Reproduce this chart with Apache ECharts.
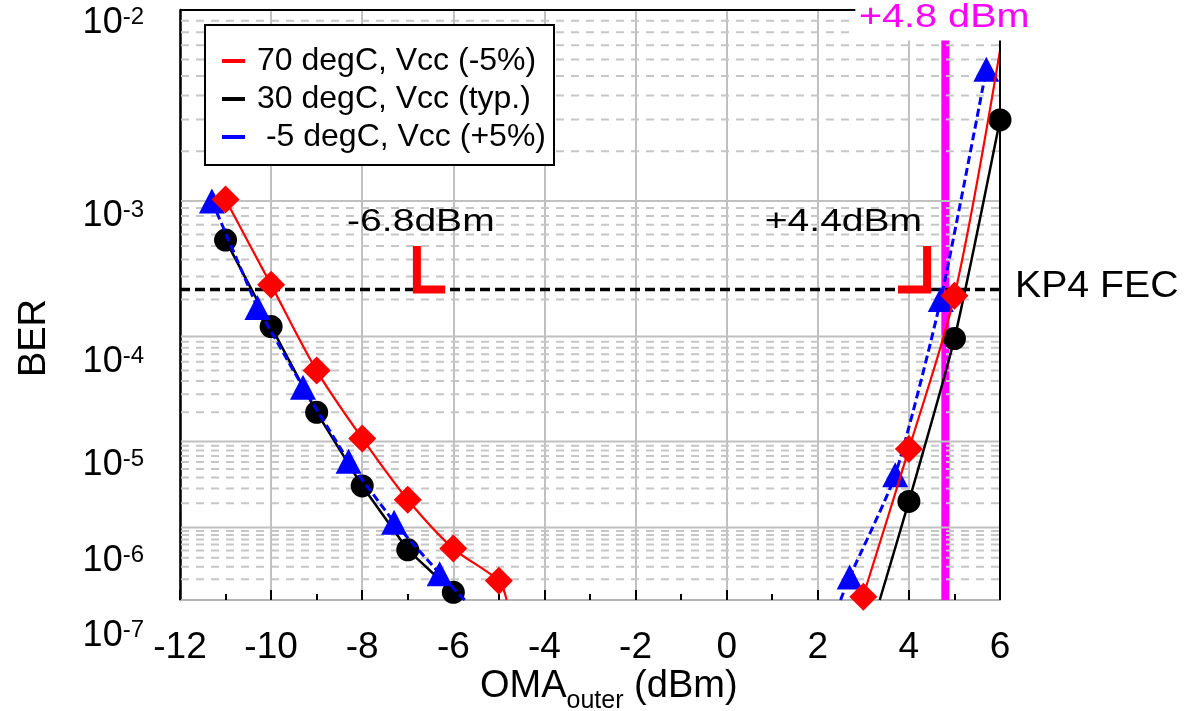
<!DOCTYPE html>
<html>
<head>
<meta charset="utf-8">
<script src="https://cdn.jsdelivr.net/npm/echarts@6/dist/echarts.min.js"></script>
<style>
  html, body { margin: 0; padding: 0; background: #fff; }
  #chart { width: 1204px; height: 711px; }
</style>
</head>
<body>
<div id="chart"></div>
<script>
// ---------------- data ----------------
const seriesNames = ['70 degC, Vcc (-5%)', '30 degC, Vcc (typ.)', ' -5 degC, Vcc (+5%)'];

// measured BER points vs OMA_outer (dBm)
const hotX   = [-11, -10, -9, -8, -7, -6, -5, 3, 4, 5];
const hotBER = [1.02e-3, 2.6e-4, 5.0e-5, 1.08e-5, 2.2e-6, 5.3e-7, 1.9e-7, 1.12e-7, 8.3e-6, 2.14e-4];
const typX   = [-11, -10, -9, -8, -7, -6, 4, 5, 6];
const typBER = [5.5e-4, 1.21e-4, 2.0e-5, 3.2e-6, 5.1e-7, 1.3e-7, 2.1e-6, 9.6e-5, 2.98e-3];
const coldX   = [-11.3, -10.3, -9.3, -8.3, -7.3, -6.3, 2.7, 3.7, 4.7, 5.7];
const coldBER = [1.0e-3, 1.73e-4, 3.5e-5, 6.1e-6, 1.16e-6, 2.4e-7, 2.15e-7, 4.3e-6, 2.0e-4, 5.4e-3];

// fitted curves, low-power and high-power branches
const hotFitLeftX    = [-11, -10, -9, -8, -7, -6, -5, -4.83];
const hotFitLeftBER  = [1.02e-3, 2.6e-4, 5.0e-5, 1.08e-5, 2.2e-6, 5.3e-7, 1.9e-7, 1.0e-7];
const hotFitRightX   = [2.97, 4, 5, 6];
const hotFitRightBER = [1.0e-7, 8.3e-6, 2.14e-4, 6.6e-3];
const typFitLeftX    = [-11, -10, -9, -8, -7, -6, -5.92];
const typFitLeftBER  = [5.5e-4, 1.21e-4, 2.0e-5, 3.2e-6, 5.1e-7, 1.3e-7, 1.0e-7];
const typFitRightX   = [3.36, 4, 5, 6];
const typFitRightBER = [1.0e-7, 2.1e-6, 9.6e-5, 2.98e-3];
const coldFitLeftX    = [-11.3, -10.3, -9.3, -8.3, -7.3, -6.3, -5.75];
const coldFitLeftBER  = [1.0e-3, 1.73e-4, 3.5e-5, 6.1e-6, 1.16e-6, 2.4e-7, 1.0e-7];
const coldFitRightX   = [2.5, 2.7, 3.7, 4.7, 5.7];
const coldFitRightBER = [1.0e-7, 2.15e-7, 4.3e-6, 2.0e-4, 5.4e-3];

// reference levels
const fecBER = 2.4e-4;          // KP4 FEC threshold
const sensLevel = 4.8;          // dBm, vertical marker
const lowerMark = -6.8;         // dBm at FEC threshold, low side
const upperMark = 4.4;          // dBm at FEC threshold, high side
const bracketTopBER = 5e-4;
const lowerBracketX = [lowerMark, lowerMark, -6.18];
const upperBracketX = [upperMark, upperMark, 3.76];
const bracketBER = [bracketTopBER, fecBER, fecBER];

// axes
const xTickMin = -12, xTickMax = 6, xTickStep = 2;
const decadeExps = [-2, -3, -4, -5, -6, -7];
const minorMantissas = [2, 3, 4, 5, 6, 7, 8, 9];

// ---------------- helpers ----------------
const FONT = '"Liberation Sans", Arial, Helvetica, sans-serif';
// BER axis is linear in log10(-log10(BER))
const tr = b => Math.log10(-Math.log10(b));
const pts = (xs, bs) => xs.map((x, i) => [x, tr(bs[i])]);

const majorGridBER = decadeExps.slice(1, -1).map(e => Math.pow(10, e));
const minorGridBER = [];
decadeExps.slice(1).forEach(e => minorMantissas.forEach(m => minorGridBER.push(m * Math.pow(10, e))));

function gridRender(dashed) {
  return function (params, api) {
    const cs = params.coordSys;
    const y = api.coord([xTickMin, api.value(1)])[1];
    return {
      type: 'line',
      silent: true,
      shape: { x1: cs.x + 1, y1: y, x2: cs.x + cs.width, y2: y },
      style: {
        stroke: dashed ? '#c6c6c6' : '#c0c0c0',
        lineWidth: 2,
        lineDash: dashed ? [8, 7] : null
      }
    };
  };
}

const colors = { hot: '#ff0000', typ: '#000000', cold: '#0000ff' };
const hotLine  = { color: colors.hot, width: 2.2 };
const typLine  = { color: colors.typ, width: 2.5 };
const coldLine = { color: colors.cold, width: 3, type: [8, 4] };

function fit(name, data, lineStyle, z, smooth) {
  return {
    name, type: 'line', data, z, smooth: smooth || false,
    symbol: 'none', showSymbol: false, lineStyle,
    itemStyle: { color: lineStyle.color },
    emphasis: { disabled: true }, silent: true, animation: false
  };
}
function marks(name, data, symbol, size, color, z) {
  return {
    name, type: 'scatter', data, z, symbol, symbolSize: size,
    itemStyle: { color, opacity: 1 },
    emphasis: { disabled: true }, silent: true, animation: false
  };
}

const chart = echarts.init(document.getElementById('chart'), null, { renderer: 'canvas' });

chart.setOption({
  animation: false,
  backgroundColor: '#ffffff',
  grid: { left: 180, right: 204, top: 10, bottom: 111, containLabel: false },
  legend: {
    data: seriesNames.map((n, i) => ({
      name: n, icon: 'rect',
      itemStyle: { color: [colors.hot, colors.typ, colors.cold][i] }
    })),
    orient: 'vertical',
    left: 205, top: 25,
    padding: [20, 8, 12, 17],
    itemGap: 6,
    itemWidth: 23, itemHeight: 4,
    backgroundColor: '#ffffff',
    borderColor: '#000000', borderWidth: 2,
    selectedMode: false,
    textStyle: { fontSize: 32, color: '#000', fontFamily: FONT, padding: [0, 0, 0, 7] }
  },
  xAxis: {
    type: 'value', min: xTickMin, max: xTickMax, interval: xTickStep,
    axisLine: { show: true, onZero: false, lineStyle: { color: '#b4b4b4', width: 2 } },
    axisTick: { show: true, inside: true, length: 10, lineStyle: { color: '#000', width: 2 } },
    minorTick: { show: true, splitNumber: 2, length: 6, lineStyle: { color: '#000', width: 2 } },
    axisLabel: { fontSize: 37, color: '#000', margin: 29, fontFamily: FONT },
    splitLine: { show: true, lineStyle: { color: '#c0c0c0', width: 2 } }
  },
  yAxis: {
    type: 'value', inverse: true,
    min: tr(Math.pow(10, decadeExps[0])), max: tr(Math.pow(10, decadeExps[decadeExps.length - 1])),
    axisLine: { show: true, onZero: false, lineStyle: { color: '#000', width: 2.5 } },
    axisTick: { show: false }, axisLabel: { show: false }, splitLine: { show: false }
  },
  series: [
    {
      name: 'sensitivity', type: 'line', z: 1, silent: true, animation: false,
      data: [[sensLevel, tr(1e-2)], [sensLevel, tr(1e-7)]],
      symbol: 'none', showSymbol: false,
      lineStyle: { color: '#ff00ff', width: 8 }
    },
    { name: 'minor grid', type: 'custom', z: 2, silent: true, animation: false,
      data: minorGridBER.map(b => [xTickMin, tr(b)]), renderItem: gridRender(true) },
    { name: 'major grid', type: 'custom', z: 2, silent: true, animation: false,
      data: majorGridBER.map(b => [xTickMin, tr(b)]), renderItem: gridRender(false) },
    {
      name: 'KP4 FEC', type: 'line', z: 3, silent: true, animation: false,
      data: [[xTickMin, tr(fecBER)], [xTickMax, tr(fecBER)]],
      symbol: 'none', showSymbol: false,
      lineStyle: { color: '#000', width: 3.5, type: [10, 5] }
    },
    fit(seriesNames[1], pts(typFitLeftX, typFitLeftBER), typLine, 4),
    fit(seriesNames[1], pts(typFitRightX, typFitRightBER), typLine, 4, 0.2),
    marks(seriesNames[1], pts(typX, typBER), 'circle', 23, colors.typ, 4),
    fit(seriesNames[2], pts(coldFitLeftX, coldFitLeftBER), coldLine, 5),
    fit(seriesNames[2], pts(coldFitRightX, coldFitRightBER), coldLine, 5, 0.2),
    marks(seriesNames[2], pts(coldX, coldBER), 'triangle', [26, 25], colors.cold, 5),
    fit(seriesNames[0], pts(hotFitLeftX, hotFitLeftBER), hotLine, 6, 0.3),
    fit(seriesNames[0], pts(hotFitRightX, hotFitRightBER), hotLine, 6, 0.3),
    marks(seriesNames[0], pts(hotX, hotBER), 'diamond', 28, colors.hot, 6),
    {
      name: 'lower bracket', type: 'line', z: 7, silent: true, animation: false,
      data: pts(lowerBracketX, bracketBER), symbol: 'none', showSymbol: false,
      lineStyle: { color: '#ff0000', width: 8, join: 'miter', cap: 'butt' }
    },
    {
      name: 'upper bracket', type: 'line', z: 7, silent: true, animation: false,
      data: pts(upperBracketX, bracketBER), symbol: 'none', showSymbol: false,
      lineStyle: { color: '#ff0000', width: 8, join: 'miter', cap: 'butt' }
    }
  ]
});

// ---------------- text and frame placed from the axis scales ----------------
const px = (x, b) => chart.convertToPixel({ gridIndex: 0 }, [x, tr(b)]);
const topLeft = px(xTickMin, Math.pow(10, decadeExps[0]));
const botRight = px(xTickMax, Math.pow(10, decadeExps[decadeExps.length - 1]));

const tickNudge = [13, 15, 26, 24, 34, 36];
const graphics = [];

decadeExps.forEach((e, i) => {
  const y = px(xTickMin, Math.pow(10, e))[1] + tickNudge[i];
  graphics.push({
    type: 'text', z: 50, silent: true, x: 144, y,
    style: {
      text: '{m|10}{s|' + e + '}',
      align: 'right', verticalAlign: 'middle', fill: '#000',
      rich: {
        m: { fontSize: 36, fontFamily: FONT, fill: '#000' },
        s: { fontSize: 24, fontFamily: FONT, fill: '#000', verticalAlign: 'top' }
      }
    }
  });
});

// frame: top and right edges
graphics.push({ type: 'line', z: 50, silent: true,
  shape: { x1: topLeft[0], y1: topLeft[1], x2: botRight[0], y2: topLeft[1] },
  style: { stroke: '#000', lineWidth: 2 } });
graphics.push({ type: 'line', z: 50, silent: true,
  shape: { x1: botRight[0], y1: topLeft[1], x2: botRight[0], y2: botRight[1] },
  style: { stroke: '#000', lineWidth: 2 } });

// threshold annotations
const lowTop = px(lowerMark, bracketTopBER);
const upTop = px(upperMark, bracketTopBER);
graphics.push({ type: 'text', z: 50, silent: true, x: lowTop[0] + 4, y: lowTop[1] - 24, scaleX: 1.22,
  style: { text: lowerMark + 'dBm', fontSize: 32, fontFamily: FONT, fill: '#000', align: 'center', verticalAlign: 'middle' } });
graphics.push({ type: 'text', z: 50, silent: true, x: upTop[0] - 5, y: upTop[1] - 24, scaleX: 1.22,
  style: { text: '+' + upperMark + 'dBm', fontSize: 32, fontFamily: FONT, fill: '#000', align: 'right', verticalAlign: 'middle' } });

const fecEnd = px(xTickMax, fecBER);
graphics.push({ type: 'text', z: 50, silent: true, x: fecEnd[0] + 15, y: fecEnd[1] - 3, scaleX: 1.06,
  style: { text: 'KP4 FEC', fontSize: 37, fontFamily: FONT, fill: '#000', align: 'left', verticalAlign: 'middle' } });

const sensTop = px(sensLevel, Math.pow(10, decadeExps[0]));
graphics.push({ type: 'text', z: 60, silent: true, x: sensTop[0] - 90, y: sensTop[1] + 7.5, scaleX: 1.2,
  style: { text: '+' + sensLevel + ' dBm', fontSize: 33, fontFamily: FONT, fill: '#ff00ff',
    align: 'left', verticalAlign: 'middle', backgroundColor: '#ffffff', padding: [4, 3, 9, 3] } });

// axis titles
graphics.push({ type: 'text', z: 50, silent: true, x: 35, y: 338, rotation: Math.PI / 2,
  style: { text: 'BER', fontSize: 38, fontFamily: FONT, fill: '#000', align: 'center', verticalAlign: 'middle' } });
graphics.push({ type: 'text', z: 50, silent: true, x: 480, y: 687,
  style: {
    text: '{a|OMA}{b|outer}{a| (dBm)}', align: 'left', verticalAlign: 'middle', fill: '#000',
    rich: {
      a: { fontSize: 38, fontFamily: FONT, fill: '#000' },
      b: { fontSize: 25, fontFamily: FONT, fill: '#000', padding: [28, 0, 0, 0] }
    }
  } });

chart.setOption({ graphic: graphics });
</script>
</body>
</html>
